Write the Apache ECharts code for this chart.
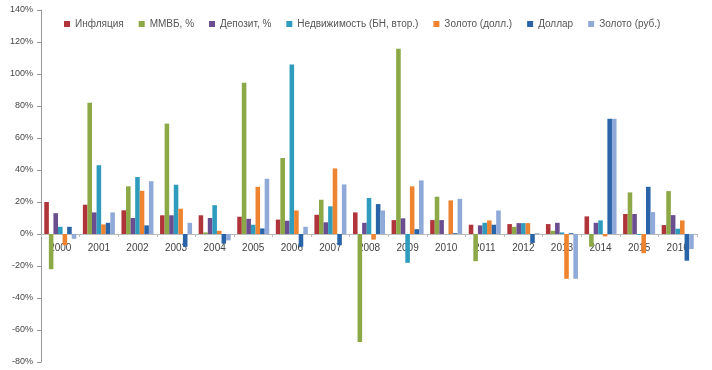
<!DOCTYPE html>
<html><head><meta charset="utf-8">
<script src="https://cdn.jsdelivr.net/npm/echarts@6/dist/echarts.min.js"></script>
<style>html,body{margin:0;padding:0;background:#fff}#c{width:712px;height:370px}</style>
</head><body><div id="c"></div>
<script>
const years = ['2000','2001','2002','2003','2004','2005','2006','2007','2008','2009','2010','2011','2012','2013','2014','2015','2016'];
const inflation = [20, 18.3, 14.8, 11.7, 11.7, 10.8, 9, 12, 13.5, 8.7, 8.7, 5.8, 6.2, 6.2, 11, 12.5, 5.6];
const micex     = [-22, 82, 29.8, 69, 1, 94.5, 47.5, 21.4, -67.5, 115.8, 23.3, -17, 4.5, 2, -8, 26, 26.8];
const deposits  = [13, 13.5, 10, 11.7, 10, 9.5, 8.3, 7.3, 7, 9.8, 8.7, 5.4, 6.8, 7, 7, 12.5, 11.8];
const realty    = [4.5, 43, 35.6, 30.8, 18, 5.8, 106, 17.3, 22.5, -18, 0, 7, 6.8, 1, 8.5, -0.5, 3.3];
const goldUsd   = [-7, 6, 27, 15.8, 2, 29.5, 14.7, 41, -3.5, 29.8, 21, 8.5, 6.8, -28, -1.5, -12, 8.5];
const dollar    = [4.5, 7, 5.4, -8, -6, 3.5, -8, -7, 18.7, 3, 0.5, 5.8, -5.6, 0.5, 72, 29.5, -16.7];
const goldRub   = [-3, 13.5, 33, 7, -4, 34.5, 4.5, 31, 14.7, 33.5, 22, 14.7, 0.5, -28, 72, 13.7, -9.4];
const names = ['Инфляция','ММВБ, %','Депозит, %','Недвижимость (БН, втор.)','Золото (долл.)','Доллар','Золото (руб.)'];
const colors = ['#B0353A','#8CA847','#6B4E90','#2F9CBE','#EE8430','#2A64A8','#8FA9D8'];
const data = [inflation, micex, deposits, realty, goldUsd, dollar, goldRub];

const chart = echarts.init(document.getElementById('c'));
chart.setOption({
  animation: false,
  color: colors,
  legend: {
    top: 14, left: 59,
    itemWidth: 6, itemHeight: 6, itemGap: 15,
    icon: 'rect',
    textStyle: { fontSize: 10, color: '#555', fontFamily: 'Liberation Sans' },
    data: names
  },
  grid: { left: 41, right: 15, top: 10, bottom: 8, containLabel: false, outerBoundsMode: 'none' },
  xAxis: {
    type: 'category', data: years,
    axisLine: { onZero: false, lineStyle: { color: '#bbb' } },
    axisTick: { show: true, length: 3, lineStyle: { color: '#bbb' } },
    axisLabel: { fontSize: 10, color: '#444', margin: 9, fontFamily: 'Liberation Sans' }
  },
  yAxis: {
    type: 'value', min: -80, max: 140, interval: 20,
    splitLine: { show: false },
    axisLine: { show: true, lineStyle: { color: '#999' } },
    axisTick: { show: true, length: 4, lineStyle: { color: '#999' } },
    axisLabel: { formatter: '{value}%', fontSize: 9, color: '#444', margin: 8, fontFamily: 'Liberation Sans' }
  },
  series: names.map((n, i) => ({
    name: n, type: 'bar', data: data[i],
    barGap: '0%', barCategoryGap: '17%'
  }))
});
// move the category axis (line, ticks, labels) up to the zero line using the value scale
const zeroPx = chart.convertToPixel({ yAxisIndex: 0 }, 0);
const bottomPx = chart.convertToPixel({ yAxisIndex: 0 }, -80);
chart.setOption({ xAxis: { offset: -(bottomPx - zeroPx) } });
</script></body></html>
